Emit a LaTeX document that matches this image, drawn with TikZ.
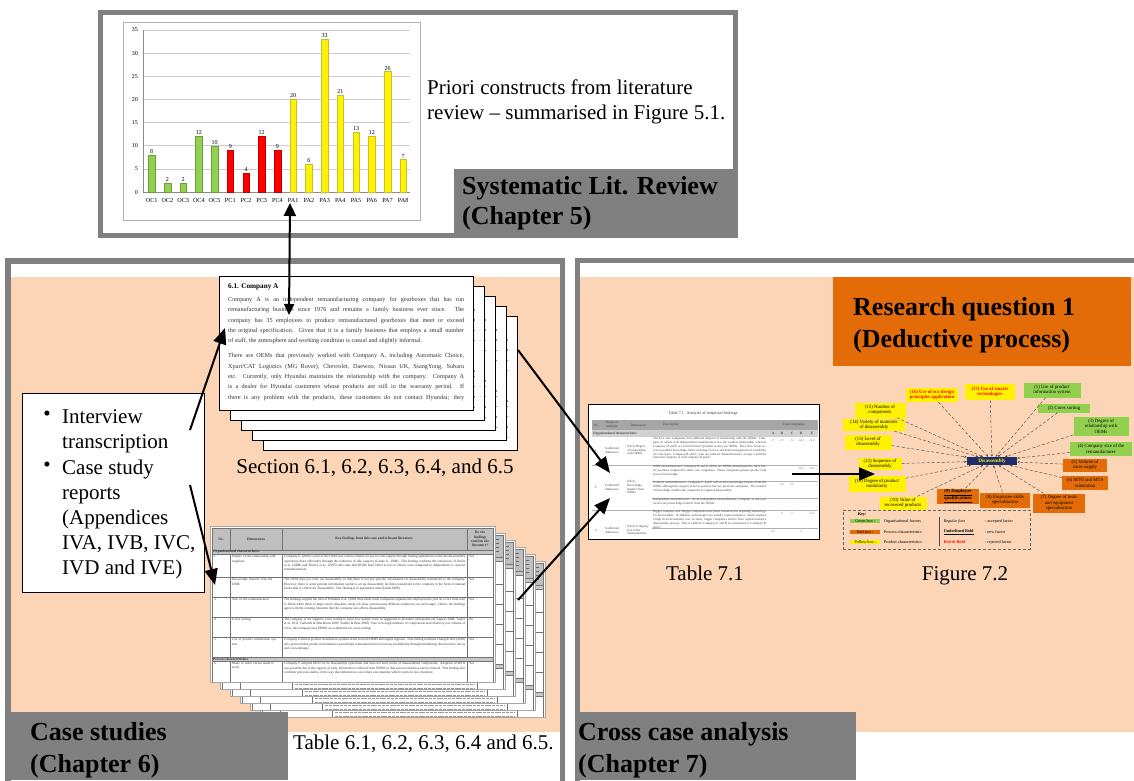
\documentclass[tikz,border=0pt]{standalone}
\usepackage{fontspec}
\setmainfont{Liberation Serif}
\newfontfamily\symfont{DejaVu Sans}
\usetikzlibrary{arrows.meta}

\definecolor{boxgray}{HTML}{808080}
\definecolor{peach}{HTML}{FBD5B5}
\definecolor{rqorange}{HTML}{E36C09}
\definecolor{chgreen}{HTML}{92D050}
\definecolor{navyblue}{HTML}{1F2D6B}
\definecolor{tabhead}{HTML}{BFBFBF}

\newcommand\fs[2]{\fontsize{#1}{#2}\selectfont}
% one justified line of the case report page
\newcommand\jl[1]{\hbox to 236pt{\spaceskip=.25em plus .6em minus .12em\relax #1}}
\newcommand\ck{{\symfont √}}

\tikzset{
  headline/.style={font=\bfseries\fs{26}{32}, inner sep=0pt, anchor=base west},
  captiontext/.style={font=\fs{21}{25}, inner sep=0pt},
  docline/.style={font=\fs{6.2}{10}, text=black!80, inner sep=0pt, anchor=base west},
  tinytext/.style={font=\fs{3.4}{4.2}, inner sep=0pt, text=black!80},
  t71text/.style={font=\fs{3.2}{3.8}, inner sep=0pt, text=black!75},
  figbox/.style={inner sep=0.6pt, align=center, font=\fs{4.8}{5.5}},
  keytext/.style={inner sep=0.6pt, font=\fs{4.2}{5}, anchor=west},
  bigarrow/.style={line width=2pt, -{Triangle[length=16pt,width=13pt]}},
  dblarrow/.style={line width=2pt, {Triangle[length=13pt,width=12pt]}-{Triangle[length=11pt,width=10pt]}},
  figarrow/.style={densely dashed, line width=0.45pt, black!70, -{Stealth[length=2.6pt,width=2.2pt]}},
  gridline/.style={black!55, line width=0.4pt},
  greyed/.style={black!40, line width=0.9pt},
}

% a page of the case report (Section 6.x), top left corner at (#1,#2);
% #3 = 1 sets the text, otherwise only its grey lines show past the page in front
\newcommand\docpage[3]{%
\begin{scope}[shift={(#1,#2)}]
  \fill[white] (0,0) rectangle (254,134);
  \begin{scope}
    \clip (0,0) rectangle (254,134);
    \ifnum#3=1
    \node[docline, font=\bfseries\fs{7.2}{9}, text=black] at (9,12.5) {6.1. Company A};
    \node[docline] at (9,25.5) {\jl{Company A is an independent remanufacturing company for gearboxes that has run}};
    \node[docline] at (9,35.8) {\jl{remanufacturing business since 1976 and remains a family business ever since. The}};
    \node[docline] at (9,46.1) {\jl{company has 35 employees to produce remanufactured gearboxes that meet or exceed}};
    \node[docline] at (9,56.4) {\jl{the original specification. Given that it is a family business that employs a small number}};
    \node[docline] at (9,66.7) {of staff, the atmosphere and working condition is casual and slightly informal.};
    \node[docline] at (9,81.8) {\jl{There are OEMs that previously worked with Company A, including Automatic Choice,}};
    \node[docline] at (9,92.1) {\jl{Xpart/CAT Logistics (MG Rover), Chevrolet, Daewoo, Nissan UK, SsangYong, Subaru}};
    \node[docline] at (9,102.4) {\jl{etc. Currently, only Hyundai maintains the relationship with the company. Company A}};
    \node[docline] at (9,112.7) {\jl{is a dealer for Hyundai customers whose products are still in the warranty period. If}};
    \node[docline] at (9,123) {\jl{there is any problem with the products, these customers do not contact Hyundai; they}};
    \else
    \foreach \yy in {23.8,34.1,44.4,54.7,85.1,90.4,100.7,111,121.3}
      \draw[black!45, line width=1.4pt, dash pattern=on 2pt off 1pt] (9,\yy) -- (245.5,\yy);
    \fi
  \end{scope}
  \draw[line width=0.9pt] (0,0) rectangle (254,134);
\end{scope}}

% one row of the case findings table
\newcommand\tabrow[5]{%
  \node[tinytext, anchor=north west] at (4,#1+1.2) {#2};
  \node[tinytext, anchor=north west, text width=47pt, align=left] at (22,#1+1.2) {#3};
  \node[tinytext, anchor=north west, text width=181pt, align=justify] at (74,#1+1.2) {#4};
  \node[tinytext, anchor=north west] at (259,#1+1.2) {#5};}

% a page of the case findings table (Tables 6.1--6.5), top left corner at (#1,#2);
% #3 = 1 sets the text, otherwise the text shows as grey lines
\newcommand\tabpage[3]{%
\begin{scope}[shift={(#1,#2)}]
  \fill[white] (0,0) rectangle (285,156);
  \begin{scope}
    \clip (0,0) rectangle (285,156);
    \fill[tabhead] (2,2) rectangle (283,24);
    \fill[black!22] (2,24) rectangle (283,28);
    \fill[black!22] (2,131) rectangle (283,135);
    \draw[gridline] (2,2) rectangle (283,170);
    \foreach \yy in {24,28,51,71,91,111,131,135} \draw[gridline] (2,\yy) -- (283,\yy);
    \foreach \xx in {20,72,257} {
      \draw[gridline] (\xx,2) -- (\xx,24);
      \draw[gridline] (\xx,28) -- (\xx,131);
      \draw[gridline] (\xx,135) -- (\xx,170);}
    \ifnum#3=1
    \node[tinytext, font=\bfseries\fs{3.6}{4.2}] at (11,13) {No.};
    \node[tinytext, font=\bfseries\fs{3.6}{4.2}] at (46,13) {Dimensions};
    \node[tinytext, font=\bfseries\fs{3.6}{4.2}] at (164,13) {Key findings from this case and relevant literature};
    \node[tinytext, font=\bfseries\fs{3.6}{4.2}, text width=24pt, align=center] at (270,13) {Do the findings confirm the literature?};
    \node[tinytext, font=\bfseries\fs{3.6}{4.2}, anchor=west] at (3,26) {Organisational characteristics};
    \node[tinytext, font=\bfseries\fs{3.6}{4.2}, anchor=west] at (3,133) {Process characteristics};
    \tabrow{28}{1.}{Degree of the relationship with suppliers}{Company E, which is part of the OEM, has a more reliable access to cores supply through leasing agreement so that the disassembly operations more efficiently through the reduction of idle capacity (Guide Jr. 2000). This finding confirms the conclusion of Ostlin et al. (2008) and Thierry et al. (1995) who state that OEMs have better access to obtain cores compared to independent or contract remanufacturers.}{Yes}
    \tabrow{51}{2.}{Knowledge transfer from the OEM}{The OEM does not carry out disassembly so that there is not any specific information for disassembly transferred to the company. However, there is some general information useful to set up disassembly facilities transferred to the company in the form of manual books that is critical for disassembly. This finding is in agreement with (Jonah 2009).}{Yes}
    \tabrow{71}{3.}{Size of the remanufacturer}{The findings support the idea of Williams et al. (2001) that small sized companies organise the employees the jobs on a core from start to finish while those in large sized companies adopt job shop system using different employees on each stages. Hence, the findings agree with the existing literature that the company size affects disassembly.}{Yes}
    \tabrow{91}{4.}{Cores sorting}{The company is not organise cores sorting to reject low quality cores as suggested in literature (Zikopoulos \& Tagaras 2008; Taylor et al. 2011; Galbreth \& Blackburn 2009; Sundin \& Bras 2005). Due to its high numbers of components and relatively low volume of cores, the company uses EHMS as a substitute for cores sorting.}{No}
    \tabrow{111}{5.}{Use of product information system}{Company E utilises product information systems in the form of EHMS and engine logbook. This finding confirms Chang \& Wee (2010) who point out that product information system helps remanufacturers to increase profitability through minimising obsolescence, decay and cores damage.}{Yes}
    \tabrow{135}{6.}{Made to order versus made to stock}{Company E adopted MTO for its disassembly operations and does not hold stocks of disassembled components. Adoption of MTO was possible due to the support of early information collected from EHMS so that can uncertainties can be reduced. This finding also confirms previous studies in the way that information can reduce uncertainties which results in less inventory.}{Yes}
    \else
    \foreach \yy in {6,10,14,18} \draw[black!60, line width=1pt] (261,\yy) -- (279,\yy);
    \foreach \tp/\nl in {28/5,51/4,71/4,91/4,111/4,135/6} {
      \foreach \j in {1,...,\nl} \draw[greyed, dash pattern=on 3pt off 0.8pt] (75,\tp+4.2*\j-0.5) -- (255,\tp+4.2*\j-0.5);
      \draw[greyed] (23,\tp+3.7) -- (60,\tp+3.7);
      \draw[greyed] (260,\tp+3.7) -- (266,\tp+3.7);}
    \fi
  \end{scope}
  \draw[black!35, line width=0.4pt] (0,0) rectangle (285,156);
\end{scope}}

\begin{document}
\begin{tikzpicture}[x=1pt, y=-1pt]
\useasboundingbox (0,0) rectangle (1134,780);
\clip (0,0) rectangle (1134,780);
\fill[white] (0,0) rectangle (1134,780);

% ---------------- Chapter 5: systematic literature review ----------------
\draw[boxgray, line width=5pt, fill=white] (100.5,12.5) rectangle (735.5,235.5);
\node[draw=black!30, line width=0.6pt, fill=white, minimum width=297pt, minimum height=198pt, inner sep=0pt] (chart) at (271.5,121) {};
\foreach \v in {0,5,...,35} {
  \draw[black!20, line width=0.5pt] (143,192-4.63*\v) -- (410,192-4.63*\v);
  \node[font=\fs{6}{7}, anchor=base east, inner sep=0pt] at (138,194-4.63*\v) {\v};
}
\draw[black!45, line width=0.5pt] (143,30) -- (143,192) -- (410,192);
\foreach \v/\c [count=\i from 0] in {8/chgreen,2/chgreen,2/chgreen,12/chgreen,10/chgreen,9/red,4/red,12/red,9/red,20/yellow,6/yellow,33/yellow,21/yellow,13/yellow,12/yellow,26/yellow,7/yellow} {
  \pgfmathsetmacro\bx{151.7+15.72*\i}
  \pgfmathsetmacro\by{192-4.63*\v}
  \fill[\c, draw=\c!75!black, line width=0.3pt] (\bx-3.3,192) rectangle (\bx+3.3,\by);
  \node[font=\fs{6}{7}, anchor=base, inner sep=0pt] at (\bx,\by-1.5) {\v};
}
\foreach \l [count=\i from 0] in {OC1,OC2,OC3,OC4,OC5,PC1,PC2,PC3,PC4,PA1,PA2,PA3,PA4,PA5,PA6,PA7,PA8}
  \node[font=\fs{6.2}{7}, anchor=base, inner sep=0pt] at (151.7+15.72*\i,202) {\l};

\node[captiontext, anchor=base west] (priori1) at (427,94) {Priori constructs from literature};
\node[captiontext, anchor=base west] (priori2) at (427,119) {review – summarised in Figure 5.1.};

\fill[boxgray] (454,169) rectangle (735.5,238);
\node[headline] (slr1) at (462,194) {Systematic Lit. Review};
\node[headline] (slr2) at (462,224) {(Chapter 5)};

% ---------------- Chapter 6 and Chapter 7 panels ----------------
\fill[peach] (11,277) rectangle (561,732);
\draw[boxgray, line width=5.5pt] (8,261) rectangle (562.5,820);
\fill[peach] (580,277) rectangle (1140,732);
\draw[boxgray, line width=5pt] (577.5,260.5) rectangle (1160,820);

% case report pages
\foreach \k in {4,3,2,1} \docpage{219+11*\k}{276+10*\k}{0}
\docpage{219}{276}{1}
\coordinate (docTop) at (289,315);
\coordinate (docLeft) at (225,328);
\coordinate (docRight) at (518,350);
\node[captiontext, anchor=base] (sectcap) at (375,473) {Section 6.1, 6.2, 6.3, 6.4, and 6.5};

% case findings tables
\foreach \k in {5,4,3,2,1} \tabpage{210+10*\k}{526+7*\k}{0}
\tabpage{210}{526}{1}
\coordinate (tabLeft) at (215,585);
\coordinate (tabRight) at (518,600);

% data sources
\node[draw, line width=1pt, fill=white, minimum width=182pt, minimum height=199pt, inner sep=0pt] (sources) at (113,492.5) {};
\node[font=\fs{21}{25}, inner sep=0pt] (dot1) at (47,416) {\textbullet};
\node[font=\fs{21}{25}, inner sep=0pt] (dot2) at (47,467) {\textbullet};
\node[captiontext, anchor=base west] (src1) at (62,423) {Interview};
\node[captiontext, anchor=base west] (src2) at (62,448) {transcription};
\node[captiontext, anchor=base west] (src3) at (62,474) {Case study};
\node[captiontext, anchor=base west] (src4) at (62,499) {reports};
\node[captiontext, anchor=base west] (src5) at (62,524) {(Appendices};
\node[captiontext, anchor=base west] (src6) at (62,549) {IVA, IVB, IVC,};
\node[captiontext, anchor=base west] (src7) at (62,574) {IVD and IVE)};
\coordinate (srcA) at (190,430);
\coordinate (srcB) at (190,485);

% Table 7.1: analysis of empirical findings
\node[draw, line width=0.8pt, fill=white, minimum width=231pt, minimum height=135pt, inner sep=0pt] (t71) at (703.5,471.5) {};
\begin{scope}
  \clip (588,404) rectangle (819,539);
  \node[t71text, font=\fs{4.2}{5}] at (703,413) {Table 7.1. Analysis of empirical findings};
  \fill[black!35] (592,420) rectangle (818,430);
  \fill[black!18] (592,430) rectangle (818,437);
  \node[t71text, font=\fs{3.4}{3.8}] at (596,425) {No.};
  \node[t71text, font=\fs{3.4}{3.8}, align=center] at (612,425) {Result of\\analysis};
  \node[t71text, font=\fs{3.4}{3.8}] at (638,425) {Dimension};
  \node[t71text, font=\fs{3.4}{3.8}, anchor=west] at (663,425) {Description};
  \node[t71text, font=\fs{3.4}{3.8}] at (794,425) {Case companies};
  \node[t71text, font=\bfseries\fs{3.4}{3.8}, anchor=west] at (593,433.5) {Organisational characteristics};
  \foreach \cc/\cx in {A/773,B/782,C/792,D/801,E/812} \node[t71text, font=\bfseries\fs{3.4}{3.8}] at (\cx,433.5) {\cc};
  \foreach \yy in {465,510} \draw[black!30, line width=0.5pt] (592,\yy) -- (818,\yy);
  \foreach \yy in {481,498,528} \draw[black!30, line width=0.4pt] (652,\yy) -- (818,\yy);
  \foreach \r/\yy in {1/450,2/487,3/530} {
    \node[t71text] at (596,\yy) {\r.};
    \node[t71text, align=center] at (612,\yy) {Confirmed\\dimension};}
  \node[t71text, align=left, anchor=west] at (627,450) {(OC1) Degree\\of relationship\\with OEMs};
  \node[t71text, align=left, anchor=west] at (627,487) {(OC2)\\Knowledge\\transfer from\\OEMs};
  \node[t71text, align=left, anchor=west] at (627,530) {(OC3) Company\\size of the\\remanufacturer};
  \node[t71text, anchor=north west, text width=113pt, align=justify] at (653,437.5) {The five case companies have different degrees of relationship with the OEMs. Company A, which is an independent remanufacturer, has the weakest relationship, whereas Company D and E are in much better position as they are OEMs. They have better access to product knowledge, better sourcing of cores, and better management of variability of cores types. Company B and C, who are contract remanufacturers, occupy a position between Company A and Company D and E.};
  \node[t71text, anchor=north west, text width=113pt, align=justify] at (653,465.5) {OEM remanufacturers: Company D and E, which are OEMs remanufacturers, have better positions compared to other case companies. These companies possess product and process knowledge.};
  \node[t71text, anchor=north west, text width=113pt, align=justify] at (653,481.5) {Contract remanufacturers: Company C and E will receive knowledge transfer from the OEMs although the support is not as good as the two previous companies. The transfer of knowledge enables the companies to organise disassembly.};
  \node[t71text, anchor=north west, text width=113pt, align=justify] at (653,498.5) {Independent remanufacturer: As an independent remanufacturer, Company A does not receive any knowledge transfer from the OEMs.};
  \node[t71text, anchor=north west, text width=113pt, align=justify] at (653,510.5) {Bigger company size: Bigger companies have better resources for acquiring technology for disassembly. In addition, technologies are usually capital intensive, which requires a high fixed investment cost. In short, bigger companies tend to have capital-intensive disassembly process. This is valid for Company E and D in comparison to Company B and C.};
  \foreach \cx/\mk in {773/\ck, 782/\ck\ck, 792/\ck\ck, 801/\ck\ck\ck, 812/\ck\ck\ck} \node[t71text, font=\fs{2.8}{3}] at (\cx,440) {\mk};
  \foreach \cx/\mk in {801/\ck\ck\ck, 812/\ck\ck\ck} \node[t71text, font=\fs{2.8}{3}] at (\cx,468) {\mk};
  \foreach \cx/\mk in {782/\ck\ck, 792/\ck\ck} \node[t71text, font=\fs{2.8}{3}] at (\cx,484) {\mk};
  \foreach \cx/\mk in {782/\ck, 792/\ck, 812/\ck\ck\ck} \node[t71text, font=\fs{2.8}{3}] at (\cx,513) {\mk};
  \foreach \cx/\mk in {773/\ck\ck, 801/\ck} \node[t71text, font=\fs{2.8}{3}] at (\cx,531) {\mk};
\end{scope}
\coordinate (t71a) at (610,473);
\coordinate (t71b) at (610,498);
\coordinate (t71out) at (792,474);
\node[captiontext, anchor=base] (t71cap) at (705,580) {Table 7.1};

% Figure 7.2: factors influencing disassembly
\node[fill=navyblue, text=yellow, font=\bfseries\fs{5.2}{6}, minimum width=50pt, minimum height=8pt, inner sep=0pt] (dis) at (992,461) {Disassembly};
\node[figbox, fill=chgreen, minimum width=57pt, minimum height=15pt] (f1) at (1052,390) {(1) Use of product\\information system};
\node[figbox, fill=chgreen, minimum width=52pt, minimum height=9pt] (f2) at (1064,408) {(2) Cores sorting};
\node[figbox, fill=chgreen, minimum width=55pt, minimum height=19pt] (f3) at (1101,426) {(3) Degree of\\relationship with\\OEMs};
\node[figbox, fill=chgreen, minimum width=62pt, minimum height=14pt] (f4) at (1101,449) {(4) Company size of the\\remanufacturer};
\node[figbox, fill=rqorange, minimum width=44pt, minimum height=13pt] (f5) at (1085,465) {(5) Volume of\\cores supply};
\node[figbox, fill=rqorange, minimum width=46pt, minimum height=14pt] (f6) at (1085,483) {(6) MTO and MTS\\orientation};
\node[figbox, fill=rqorange, minimum width=52pt, minimum height=19pt] (f7) at (1059,503) {(7) Degree of tools\\and equipment\\specialisation};
\node[figbox, fill=rqorange, minimum width=50pt, minimum height=15pt] (f8) at (1005,500) {(8) Employee skills\\specialisation};
\node[figbox, fill=rqorange, minimum width=42pt, minimum height=15pt, font=\bfseries\fs{4.8}{5.5}] (f9) at (958,496) {\underline{(9) Employee}\\\underline{qualifications}};
\node[figbox, fill=yellow, minimum width=47pt, minimum height=13pt] (f10) at (903,503) {(10) Value of\\recovered products};
\node[figbox, fill=yellow, minimum width=57pt, minimum height=16pt] (f11) at (877,484) {(11) Degree of product\\modularity};
\node[figbox, fill=yellow, minimum width=43pt, minimum height=12pt] (f12) at (880,464) {(12) Sequence of\\disassembly};
\node[figbox, fill=yellow, minimum width=47pt, minimum height=15pt] (f13) at (868,442) {(13) Level of\\disassembly};
\node[figbox, fill=yellow, minimum width=62pt, minimum height=12pt] (f14) at (874,425) {(14) Variety of materials\\of disassembly};
\node[figbox, fill=yellow, minimum width=51pt, minimum height=15pt] (f15) at (880,410) {(15) Number of\\components};
\node[figbox, fill=yellow, minimum width=52pt, minimum height=14pt, text=red, font=\bfseries\fs{4.8}{5.5}] (f16) at (932,395) {(16) Use of eco design\\principles application};
\node[figbox, fill=yellow, minimum width=50pt, minimum height=16pt, text=red, font=\bfseries\fs{4.8}{5.5}] (f17) at (990,392) {(17) Use of smarts\\technologies};
\foreach \b in {f1,f2,f3,f4,f5,f6,f7,f8,f9,f10,f11,f12,f13,f14,f15,f16,f17}
  \draw[figarrow] (\b) -- (dis);

% key of Figure 7.2
\node[draw=black!60, densely dashed, line width=0.5pt, minimum width=187pt, minimum height=39pt, inner sep=0pt] (figkey) at (936.5,529.5) {};
\node[keytext, font=\bfseries\fs{4.2}{5}] (keyhead) at (857,514.5) {Key:};
\node[keytext, fill=chgreen, minimum width=30pt] (kg) at (850,521) {Green box :};
\node[keytext, fill=rqorange, minimum width=30pt] (kr) at (850,532) {Red box :};
\node[keytext, fill=yellow, minimum width=30pt] (ky) at (850,542) {Yellow box :};
\node[keytext] (kg2) at (883,521) {Organisational factors};
\node[keytext] (kr2) at (883,532) {Process characteristics};
\node[keytext] (ky2) at (883,542) {Product characteristics};
\draw[black!70, line width=0.8pt] (939,517) -- (939,546);
\node[keytext, font=\itshape\fs{4.2}{5}] (kf1) at (943,521) {Regular font};
\node[keytext, font=\bfseries\fs{4.2}{5}] (kf2) at (943,532) {\underline{Underlined Bold}};
\node[keytext, font=\bfseries\fs{4.2}{5}, text=red] (kf3) at (943,542) {Red \& Bold};
\node[keytext] (kd1) at (984,521) {: accepted factor};
\node[keytext] (kd2) at (984,532) {: new factor};
\node[keytext] (kd3) at (984,542) {: rejected factor};
\coordinate (fig72in) at (875,474);
\node[captiontext, anchor=base] (f72cap) at (965,580) {Figure 7.2};

% research question banner
\fill[rqorange] (833,277) rectangle (1131,366);
\node[headline] (rq1) at (853,315) {Research question 1};
\node[headline] (rq2) at (853,347) {(Deductive process)};

% panel labels and table caption
\fill[boxgray] (5,712) rectangle (288,780);
\node[headline] (cs1) at (30,740) {Case studies};
\node[headline] (cs2) at (30,772) {(Chapter 6)};
\node[captiontext, anchor=base west] (tabcap) at (293,749) {Table 6.1, 6.2, 6.3, 6.4 and 6.5.};
\fill[boxgray] (575,712) rectangle (856,780);
\node[headline] (cc1) at (578,740) {Cross case analysis};
\node[headline] (cc2) at (578,772) {(Chapter 7)};

% connectors
\coordinate (chartPA1) at (290,203);
\draw[dblarrow] (chartPA1) -- (docTop);
\draw[bigarrow] (srcA) -- (docLeft);
\draw[bigarrow] (srcB) -- (tabLeft);
\draw[bigarrow] (docRight) -- (t71a);
\draw[bigarrow] (tabRight) -- (t71b);
\draw[bigarrow] (t71out) -- (fig72in);
\end{tikzpicture}
\end{document}
